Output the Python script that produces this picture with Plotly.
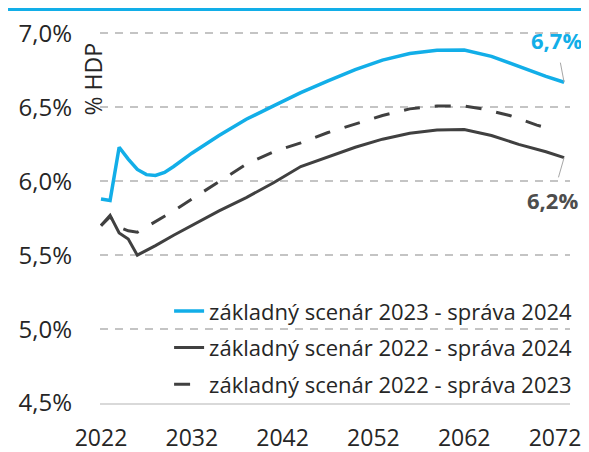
import plotly.graph_objects as go

# --- data ---
years_2023_2024 = [2022, 2023, 2024, 2025, 2026, 2027, 2028, 2029, 2030, 2032, 2035, 2038, 2041,
                   2044, 2047, 2050, 2053, 2056, 2059, 2062, 2065, 2068, 2071, 2073]
vals_2023_2024 = [5.88, 5.87, 6.23, 6.15, 6.08, 6.045, 6.04, 6.06, 6.10, 6.19, 6.31, 6.42, 6.51,
                  6.60, 6.68, 6.755, 6.82, 6.865, 6.887, 6.888, 6.845, 6.775, 6.71, 6.67]

years_2022_2024 = [2022, 2023, 2024, 2025, 2026, 2027, 2028, 2030, 2032, 2035, 2038, 2041,
                   2044, 2047, 2050, 2053, 2056, 2059, 2062, 2065, 2068, 2071, 2073]
vals_2022_2024 = [5.70, 5.77, 5.65, 5.61, 5.50, 5.53, 5.565, 5.635, 5.70, 5.80, 5.89, 5.99,
                  6.10, 6.165, 6.23, 6.285, 6.325, 6.347, 6.35, 6.31, 6.25, 6.20, 6.16]

years_2022_2023 = [2022, 2023, 2024, 2025, 2026, 2027, 2028, 2030, 2032, 2035, 2038, 2041,
                   2044, 2047, 2050, 2053, 2056, 2059, 2062, 2064, 2067, 2070, 2072]
vals_2022_2023 = [5.70, 5.76, 5.69, 5.665, 5.655, 5.69, 5.73, 5.80, 5.88, 6.00, 6.115, 6.20,
                  6.26, 6.33, 6.39, 6.445, 6.49, 6.51, 6.51, 6.49, 6.445, 6.38, 6.345]

names = ["základný scenár 2023 - správa 2024",
         "základný scenár 2022 - správa 2024",
         "základný scenár 2022 - správa 2023"]

x_ticks = [2022, 2032, 2042, 2052, 2062, 2072]
y_ticks = [4.5, 5.0, 5.5, 6.0, 6.5, 7.0]
y_tick_labels = ["4,5%", "5,0%", "5,5%", "6,0%", "6,5%", "7,0%"]

label_blue = "6,7%"
label_grey = "6,2%"

BLUE = "#12AEE8"
DARK = "#404040"
FONT = "Open Sans"

fig = go.Figure()
fig.add_trace(go.Scatter(x=years_2023_2024, y=vals_2023_2024, mode="lines", name=names[0],
                         legendgroup="a", line=dict(color=BLUE, width=3.5)))
fig.add_trace(go.Scatter(x=years_2022_2024, y=vals_2022_2024, mode="lines", name=names[1],
                         legendgroup="b", line=dict(color=DARK, width=3)))
fig.add_trace(go.Scatter(x=years_2022_2023, y=vals_2022_2023, mode="lines", name=names[2],
                         legendgroup="c", line=dict(color=DARK, width=3, dash="16px,15px")))

fig.add_annotation(x=years_2023_2024[-1], y=vals_2023_2024[-1], text="<b>%s</b>" % label_blue,
                   showarrow=True, arrowhead=0, arrowwidth=1, arrowcolor="#A6A6A6",
                   ax=-8, ay=-42, startstandoff=6, standoff=0,
                   font=dict(family=FONT, size=22, color=BLUE))
fig.add_annotation(x=years_2022_2024[-1], y=vals_2022_2024[-1], text="<b>%s</b>" % label_grey,
                   showarrow=True, arrowhead=0, arrowwidth=1, arrowcolor="#A6A6A6",
                   ax=-12, ay=42, startstandoff=6, standoff=0,
                   font=dict(family=FONT, size=22, color="#4D4D4D"))

fig.add_annotation(xref="paper", yref="paper", x=-0.013, y=0.872, text="% HDP", textangle=-90,
                   showarrow=False, xanchor="center", yanchor="middle",
                   font=dict(family=FONT, size=23, color="#262626"))

# thin blue rule at the very top of the picture
fig.add_shape(type="line", xref="paper", yref="paper", x0=-0.1957, x1=1.0574, y0=1.0606, y1=1.0606,
              line=dict(color=BLUE, width=3))

fig.update_layout(
    template="none",
    width=589, height=452,
    margin=dict(l=92, r=27, t=24, b=57, pad=0),
    paper_bgcolor="white", plot_bgcolor="white",
    font=dict(family=FONT, color="#262626"),
    showlegend=True,
    legend=dict(x=0.147, y=0.304, xanchor="left", yanchor="top", bgcolor="rgba(0,0,0,0)",
                font=dict(family=FONT, size=22, color="#262626"), tracegroupgap=5,
                traceorder="grouped", borderwidth=0),
    xaxis=dict(range=[2021.89, 2073.65], tickvals=x_ticks, ticktext=[str(v) for v in x_ticks],
               showgrid=False, zeroline=False, showline=True, linecolor="#D9D9D9", linewidth=1.5,
               ticks="", ticklabelstandoff=14, automargin=False,
               tickfont=dict(family=FONT, size=23, color="#262626")),
    yaxis=dict(range=[4.5, 7.01], tickvals=y_ticks, ticktext=y_tick_labels,
               showgrid=True, gridcolor="#C4C4C4", gridwidth=1.5, griddash="8px,7px",
               zeroline=False, showline=False, ticks="", ticklabelstandoff=27, automargin=False,
               tickfont=dict(family=FONT, size=24, color="#262626")),
)

fig.write_html("out.html")
